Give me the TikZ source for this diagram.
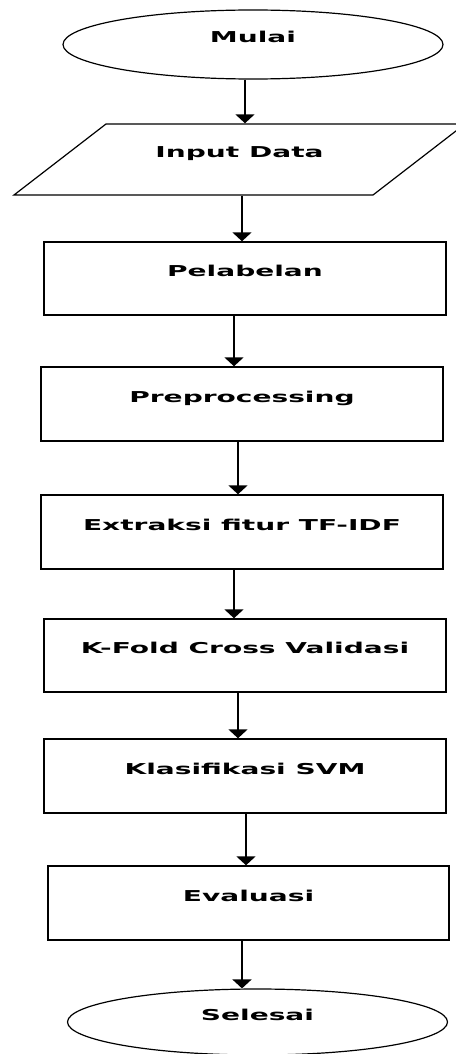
\documentclass[tikz,border=0pt]{standalone}
\usepackage{fontspec}
\usepackage{graphicx}
\setmainfont{DejaVu Sans}
\usetikzlibrary{shapes.geometric,arrows.meta}
\newcommand{\wide}[1]{\scalebox{1.87}[1]{#1}}
\begin{document}
\begin{tikzpicture}[x=1pt,y=-1pt,
  base/.style={line width=1.4pt,inner sep=0pt,text height=11pt,text depth=14.6pt,
    font=\fontsize{15}{18}\selectfont\bfseries},
  box/.style={base,draw=black,rectangle,minimum width=402pt,minimum height=74pt},
  term/.style={base,draw=black,ellipse,line width=1.2pt,minimum width=380pt,minimum height=69pt},
  io/.style={base,rectangle,minimum width=267pt,minimum height=71pt},
  arr/.style={draw=black,line width=1.8pt,-{Triangle[width=19pt,length=9pt]}}]
\useasboundingbox (0,0) rectangle (455,1054);
\fill[white] (0,0) rectangle (455,1054);

\node[term] (mulai) at (253,44.5) {\wide{Mulai}};
\node[io] (input) at (239.5,159.5) {\wide{Input Data}};
\draw[line width=1.2pt,line join=miter] (106,124) -- (465,124) -- (373,195) -- (14,195) -- cycle;
\node[box,minimum height=73pt] (pel) at (245,278.5) {\wide{Pelabelan}};
\node[box] (pre) at (242,404) {\wide{Preprocessing}};
\node[box] (ext) at (242,532) {\wide{Extraksi fitur TF-IDF}};
\node[box,minimum height=73pt] (kf) at (245,655.5) {\wide{K-Fold Cross Validasi}};
\node[box] (kl) at (245,776) {\wide{Klasifikasi SVM}};
\node[box,minimum width=401pt] (ev) at (248.5,903) {\wide{Evaluasi}};
\node[term,minimum height=66pt] (sel) at (257.5,1022) {\wide{Selesai}};

\draw[arr] ([xshift=-8pt]mulai.south) -- ([xshift=5.5pt]input.north);
\draw[arr] ([xshift=2.5pt]input.south) -- ([xshift=-3pt]pel.north);
\draw[arr] ([xshift=-11pt]pel.south) -- ([xshift=-8pt]pre.north);
\draw[arr] ([xshift=-4pt]pre.south) -- ([xshift=-4pt]ext.north);
\draw[arr] ([xshift=-8pt]ext.south) -- ([xshift=-11pt]kf.north);
\draw[arr] ([xshift=-7pt]kf.south) -- ([xshift=-7pt]kl.north);
\draw[arr] ([xshift=1pt]kl.south) -- ([xshift=-2.5pt]ev.north);
\draw[arr] ([xshift=-6.5pt]ev.south) -- ([xshift=-15.5pt]sel.north);
\end{tikzpicture}
\end{document}
